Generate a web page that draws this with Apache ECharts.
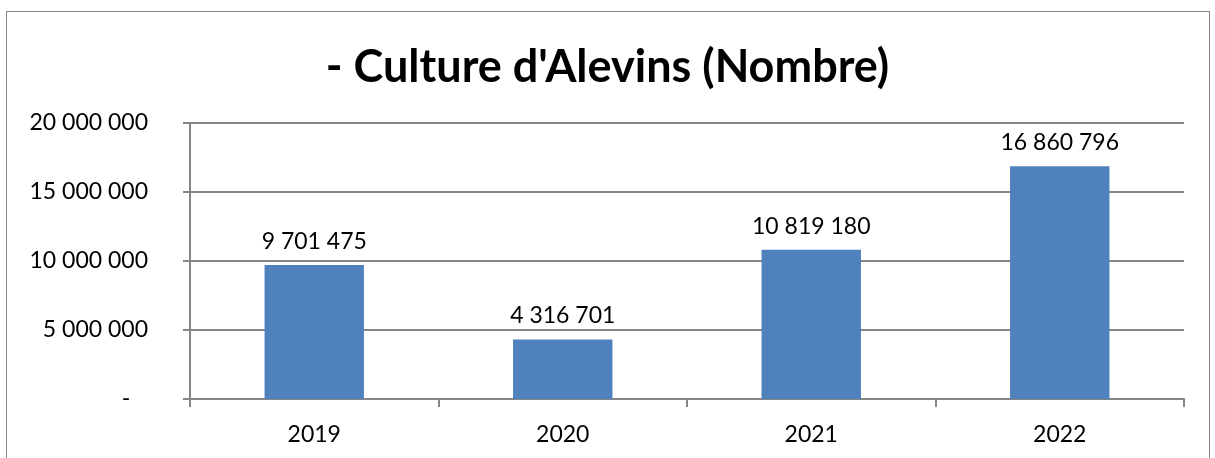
<!DOCTYPE html>
<html>
<head>
<meta charset="utf-8">
<script src="https://cdn.jsdelivr.net/npm/echarts@6/dist/echarts.min.js"></script>
<style>
  html, body { margin: 0; padding: 0; background: #fff; }
  #frame {
    position: absolute; left: 6px; top: 11px; width: 1204px; height: 460px;
    border: 1px solid #868686; box-sizing: border-box;
  }
  #chart { position: absolute; left: 0; top: 0; width: 1215px; height: 458px; }
</style>
</head>
<body>
<div id="frame"></div>
<div id="chart"></div>
<script>
// années et nombre d'alevins
const years = ['2019', '2020', '2021', '2022']
const alevins = [9701475, 4316701, 10819180, 16860796]
const titleText = "- Culture d'Alevins (Nombre)"

const fmt = (v) => {
  if (v === 0) return '-   '
  return String(v).replace(/\B(?=(\d{3})+(?!\d))/g, ' ')
}

const chart = echarts.init(document.getElementById('chart'))
chart.setOption({
  animation: false,
  textStyle: { fontFamily: 'Lato, sans-serif' },
  title: {
    text: titleText,
    left: 'center',
    top: 40,
    textStyle: { fontSize: 45, fontWeight: 'bold', color: '#000', fontFamily: 'Lato, sans-serif' }
  },
  grid: { left: 190, right: 31, top: 123, bottom: 59 },
  xAxis: {
    type: 'category',
    data: years,
    axisLine: { lineStyle: { color: '#868686', width: 2 } },
    axisTick: { show: true, length: 8, lineStyle: { color: '#868686', width: 2 } },
    axisLabel: { fontSize: 23, color: '#000', margin: 24 }
  },
  yAxis: {
    type: 'value',
    min: 0,
    max: 20000000,
    interval: 5000000,
    axisLine: { show: true, lineStyle: { color: '#868686', width: 2 } },
    axisTick: { show: true, length: 7, lineStyle: { color: '#868686', width: 2 } },
    splitLine: { lineStyle: { color: '#868686', width: 2 } },
    axisLabel: { fontSize: 23, color: '#000', margin: 42, formatter: fmt }
  },
  series: [{
    type: 'bar',
    data: alevins,
    barWidth: '40%',
    itemStyle: { color: '#4F81BD' },
    label: {
      show: true,
      position: 'top',
      distance: 12,
      fontSize: 23,
      color: '#000',
      formatter: (p) => fmt(p.value)
    }
  }]
})
</script>
</body>
</html>
